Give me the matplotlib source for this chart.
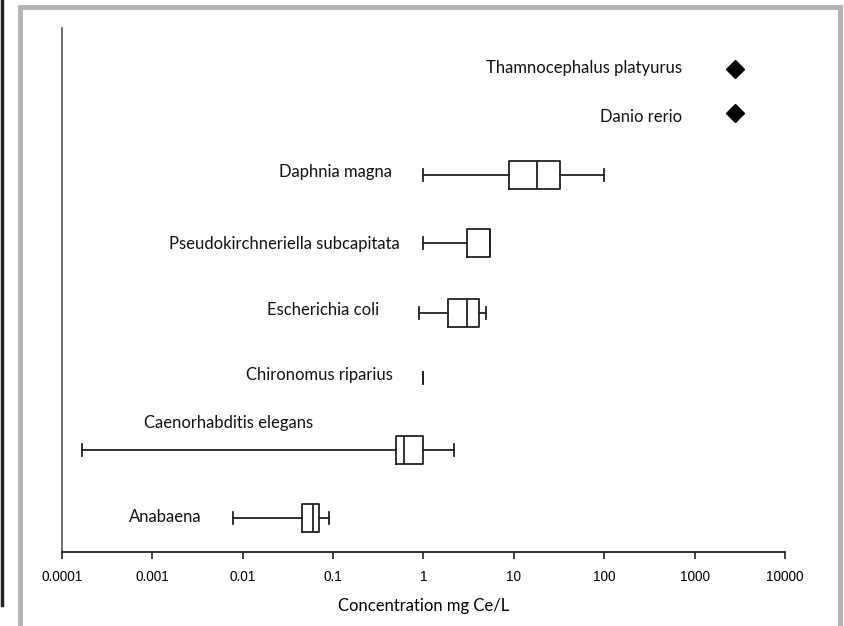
import matplotlib.pyplot as plt
from matplotlib.patches import Rectangle
from matplotlib.lines import Line2D

# species with full box statistics (mg Ce/L)
box_species = ['Anabaena', 'Caenorhabditis elegans', 'Chironomus riparius',
               'Escherichia coli', 'Pseudokirchneriella subcapitata', 'Daphnia magna']
whis_lo = [0.0078, 0.000166, 1.0, 0.9, 1.0, 1.0]
q1 = [0.045, 0.50, 1.0, 1.86, 3.0, 8.8]
med = [0.06, 0.61, 1.0, 3.0, 5.4, 18.0]
q3 = [0.07, 1.0, 1.0, 4.1, 5.4, 32.0]
whis_hi = [0.089, 2.17, 1.0, 4.9, 5.4, 100.0]

# species with a single value
point_species = ['Danio rerio', 'Thamnocephalus platyurus']
point_values = [2800.0, 2800.0]

# vertical row positions (bottom to top)
box_rows = [34, 102, 174, 239, 309, 377]
point_rows = [439, 483]

# where each name sits: x anchor on the log axis, y, alignment
box_label_x = [0.00354, 0.00705, 0.459, 0.322, 0.55, 0.448]
box_label_y = [35, 129, 177, 242, 308, 380]
box_label_ha = ['right', 'center', 'right', 'right', 'right', 'right']
point_label_x = [725, 725]
point_label_y = [435, 484]

ticks = [0.0001, 0.001, 0.01, 0.1, 1, 10, 100, 1000, 10000]
tick_labels = ['0.0001', '0.001', '0.01', '0.1', '1', '10', '100', '1000', '10000']

label_font = ['Lato', 'DejaVu Sans']
tick_font = ['Liberation Sans', 'DejaVu Sans']
fs = 12

fig = plt.figure(figsize=(8.45, 6.26), dpi=100)
W, H = 845, 626
ax = fig.add_axes([62 / W, (H - 552) / H, (785 - 62) / W, (552 - 28) / H])

stats = []
for i in range(len(box_species)):
    stats.append({'whislo': whis_lo[i], 'q1': q1[i], 'med': med[i],
                  'q3': q3[i], 'whishi': whis_hi[i], 'fliers': []})

lw = 1.3
parts = ax.bxp(stats, positions=box_rows, widths=28, vert=False, showfliers=False,
               capwidths=12, manage_ticks=False,
               boxprops=dict(color='#222222', linewidth=lw),
               medianprops=dict(color='#222222', linewidth=lw),
               whiskerprops=dict(color='#222222', linewidth=lw),
               capprops=dict(color='#222222', linewidth=lw))

# a zero-width box collapses to its cap only
for i in range(len(box_species)):
    if q1[i] == q3[i]:
        parts['boxes'][i].set_visible(False)
        parts['medians'][i].set_visible(False)

ax.plot(point_values, point_rows, linestyle='none', marker='D',
        markersize=9, color='black')

ax.set_xscale('log')
ax.set_xlim(0.0001, 10000)
ax.set_ylim(0, 524)
ax.set_xticks(ticks)
ax.set_xticklabels(tick_labels, fontfamily=tick_font, fontsize=9.8)
ax.minorticks_off()
ax.set_yticks([])
ax.tick_params(axis='x', direction='out', length=5, width=1.2,
               color='#222222', pad=8)

for s in ['top', 'right']:
    ax.spines[s].set_visible(False)
ax.spines['bottom'].set_color('#222222')
ax.spines['bottom'].set_linewidth(1.3)
ax.spines['left'].set_color('#555555')
ax.spines['left'].set_linewidth(1.2)

ax.set_xlabel('Concentration mg Ce/L', fontfamily=label_font, fontsize=fs,
              labelpad=10)

# species names
for name, x, y, ha in zip(box_species, box_label_x, box_label_y, box_label_ha):
    ax.text(x, y, name, ha=ha, va='center', fontfamily=label_font, fontsize=fs,
            color='#111111')
for name, x, y in zip(point_species, point_label_x, point_label_y):
    ax.text(x, y, name, ha='right', va='center', fontfamily=label_font,
            fontsize=fs, color='#111111')

# page frame around the chart
fig.add_artist(Rectangle((20 / W, -0.05), 820 / W, 1.05 - 7 / H,
                         transform=fig.transFigure, fill=False,
                         edgecolor='#b3b3b3', linewidth=3.5))
fig.add_artist(Line2D([2 / W, 2 / W], [(H - 605) / H, 1],
                      transform=fig.transFigure, color='#222222', linewidth=2.5))

fig.savefig('out.png', dpi=100)
